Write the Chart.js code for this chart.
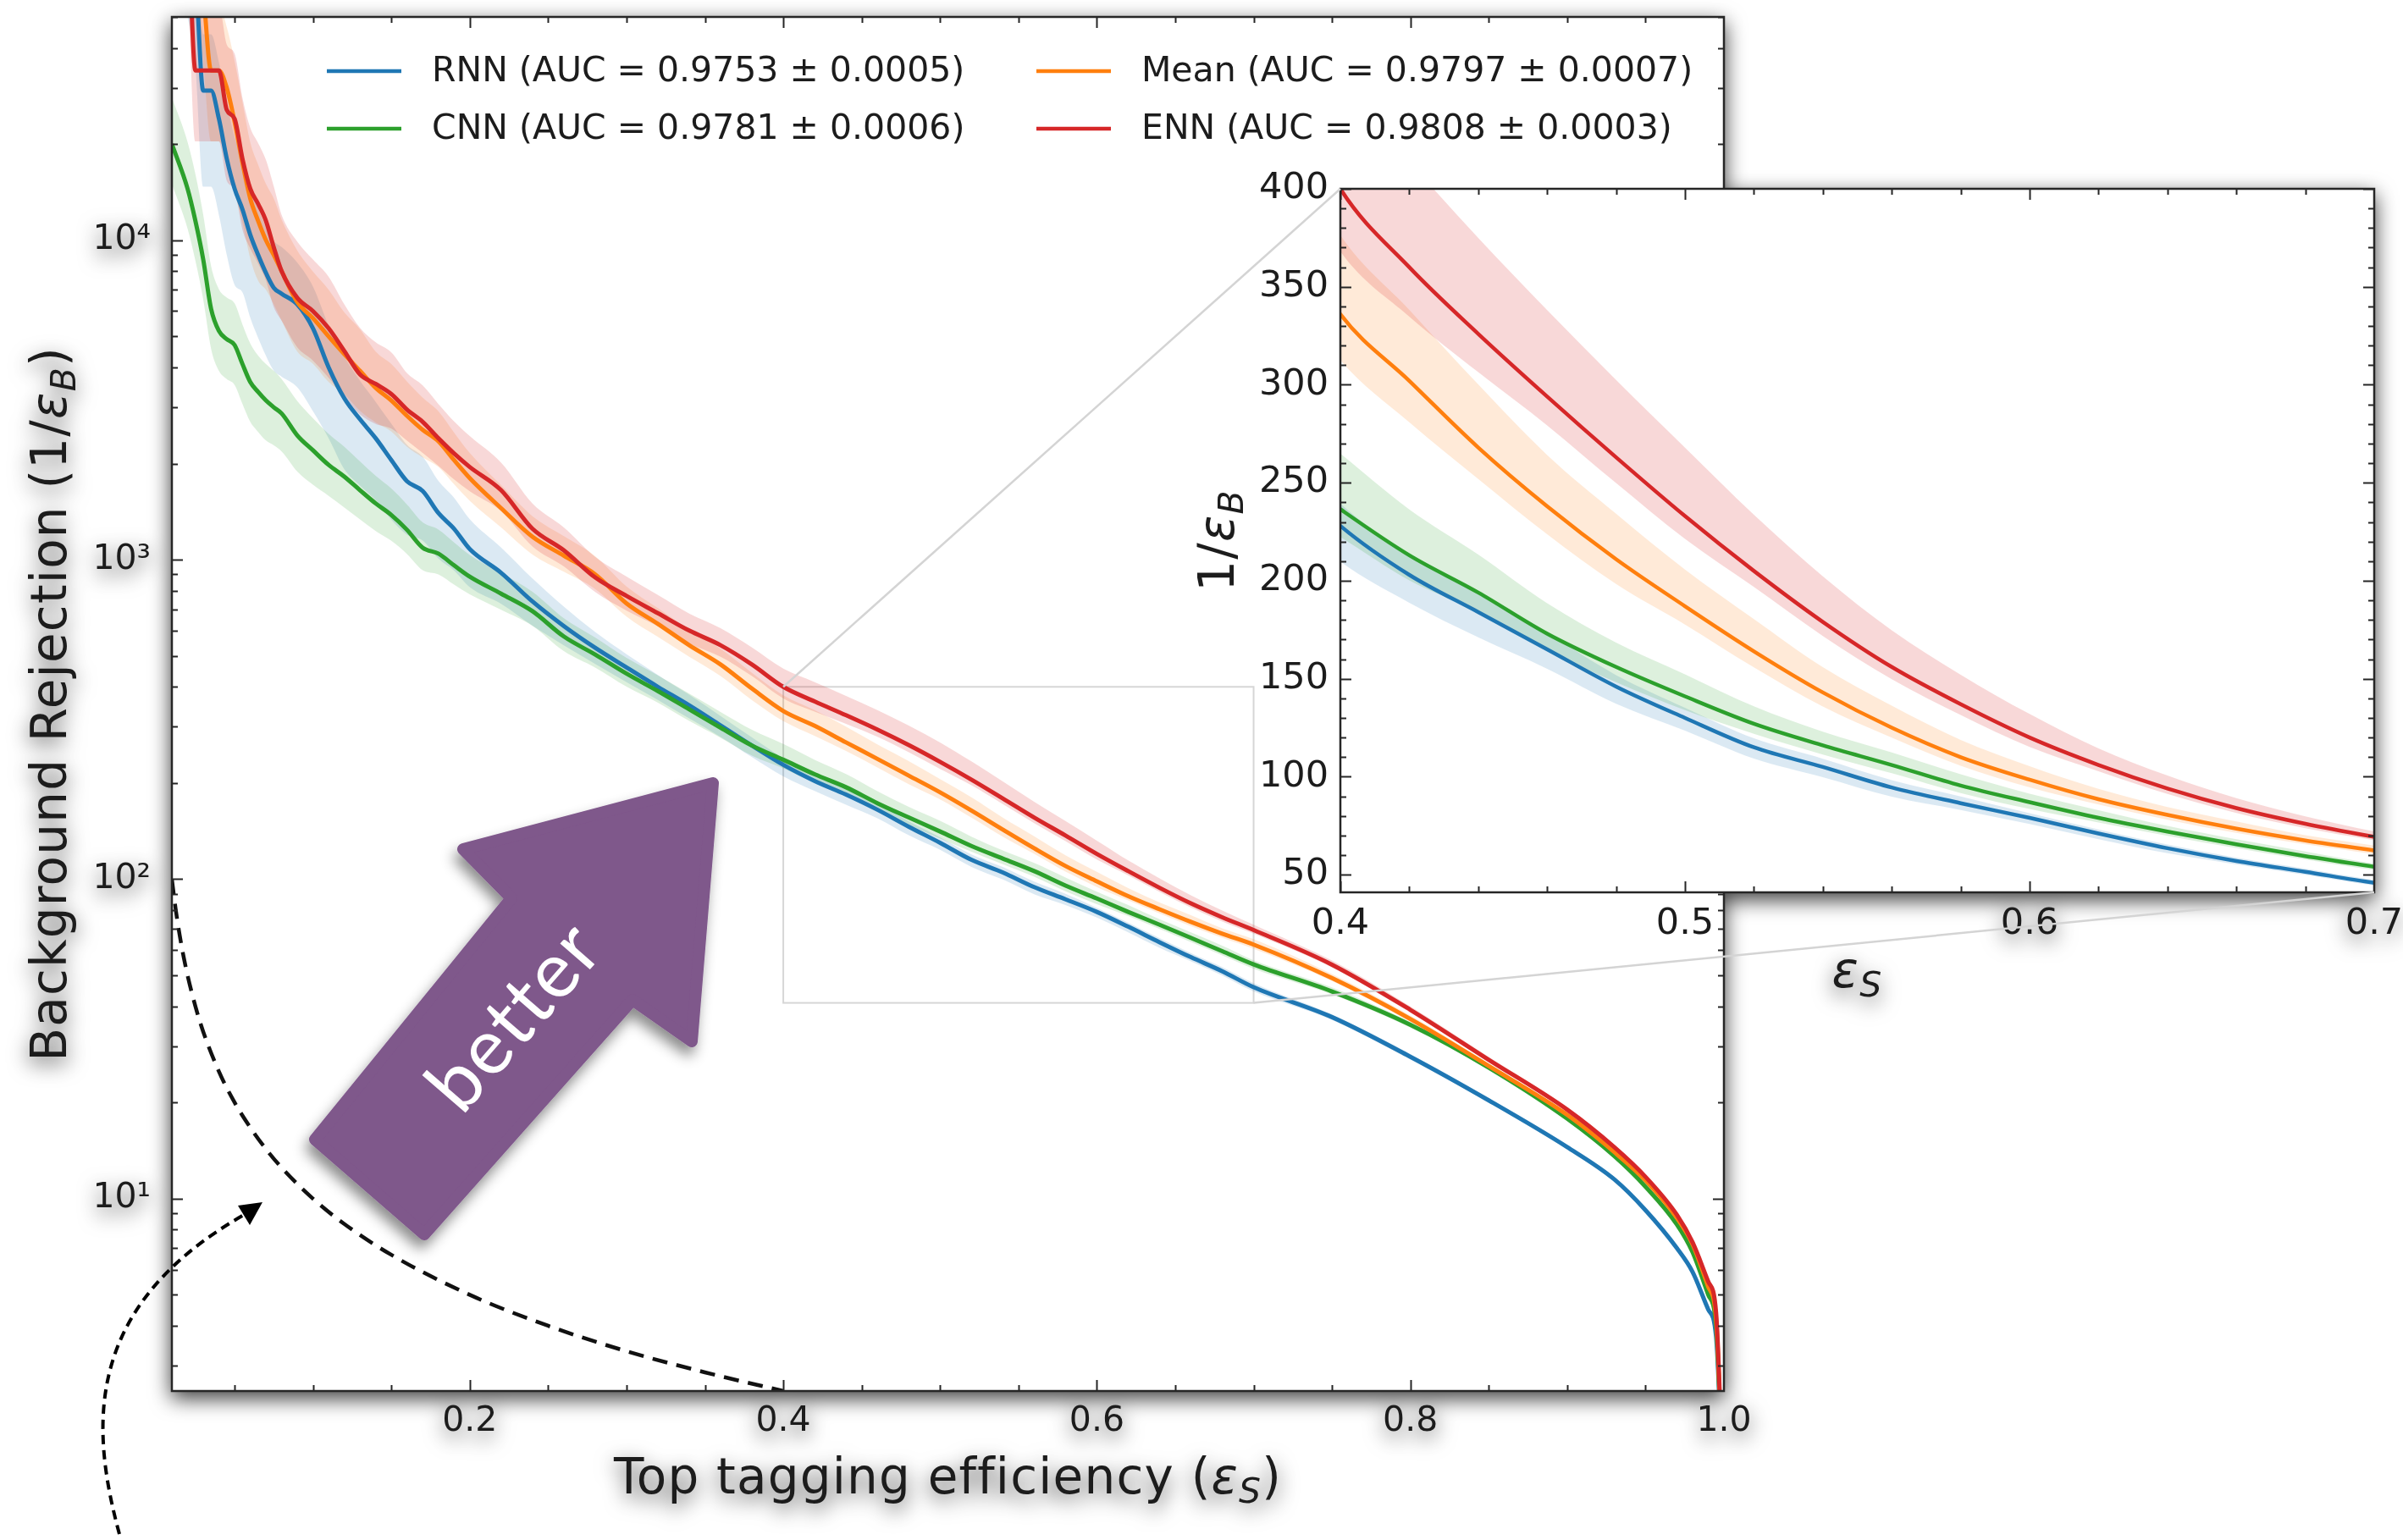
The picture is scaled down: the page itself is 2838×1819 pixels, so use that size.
<!DOCTYPE html>
<html>
<head>
<meta charset="utf-8">
<title>Top tagging ROC</title>
<script src="https://cdn.jsdelivr.net/npm/chart.js@4.4.1/dist/chart.umd.min.js"></script>
<style>
  html, body { margin: 0; padding: 0; background: #fff; }
  body { width: 2838px; height: 1819px; position: relative; overflow: hidden; }
  #figure { position: absolute; left: 0; top: 0; width: 2838px; height: 1819px;
            filter: drop-shadow(0 8px 12px rgba(0,0,0,0.75)); }
  #mainCanvas { position: absolute; left: 0; top: 0; }
  #insetBox { position: absolute; left: 1380px; top: 180px; width: 1458px; height: 1000px; }
  #marks { position: absolute; left: 0; top: 0; }
</style>
</head>
<body>
<div id="figure">
  <canvas id="mainCanvas" width="2838" height="1819"></canvas>
  <div id="insetBox"><canvas id="insetCanvas" width="1458" height="1000"></canvas></div>
</div>

<svg id="marks" width="2838" height="1819" xmlns="http://www.w3.org/2000/svg">
  <defs>
    <filter id="arrowShadow" x="-30%" y="-30%" width="160%" height="160%">
      <feDropShadow dx="-4" dy="10" stdDeviation="8" flood-color="#000" flood-opacity="0.45"/>
    </filter>
  </defs>
  <g id="zoomLinks" stroke="#d4d4d4" stroke-width="2.5" fill="none"></g>
  <!-- curved pointer towards the random-guess line -->
  <path d="M141 1812 C108 1690 95 1545 288 1435" fill="none" stroke="#000" stroke-width="4" stroke-dasharray="11 7"/>
  <polygon points="310,1420 281,1424 295,1447" fill="#000"/>
  <!-- "better" arrow -->
  <polygon points="842,925 547,1003 604,1061 372,1346 501,1458 747,1181 817,1230"
           fill="#7f588b" stroke="#7f588b" stroke-width="14" stroke-linejoin="round" filter="url(#arrowShadow)"/>
  <text x="613" y="1206" transform="rotate(-49 613 1206)" text-anchor="middle" dominant-baseline="middle"
        font-family="Lato, 'Open Sans', sans-serif" font-size="92" letter-spacing="2" fill="#fff">better</text>
</svg>

<script>
// ── ROC curves: background rejection vs. top tagging efficiency, with zoomed inset ──

const effS = [0.01, 0.02, 0.025, 0.03, 0.035, 0.04, 0.045, 0.05, 0.055, 0.06,
  0.065, 0.07, 0.075, 0.08, 0.09, 0.1,
  0.11, 0.12, 0.13, 0.14, 0.15, 0.16, 0.17, 0.18, 0.19, 0.2,
  0.22, 0.24, 0.26, 0.28, 0.3, 0.32, 0.34, 0.36, 0.38, 0.4,
  0.42, 0.44, 0.46, 0.48, 0.5, 0.52, 0.54, 0.56, 0.58, 0.6, 0.62, 0.64, 0.66, 0.68, 0.7,
  0.75, 0.8, 0.85, 0.9, 0.93, 0.95, 0.97, 0.98, 0.99, 0.995, 1.0];

// 1/eps_B for each model
const rnnRej = [150000, 100000, 70000, 29400, 29400, 24000, 18000, 14500, 12500, 10400,
  9000, 7900, 7100, 6800, 6300, 5300,
  4000, 3200, 2750, 2400, 2050, 1760, 1640, 1400, 1250, 1080,
  910, 740, 620, 530, 460, 400, 350, 303, 262, 228,
  203, 184, 165, 146, 130, 115, 105, 94.5, 86.5, 79, 71, 63.5, 57, 51.5, 45.9,
  37, 27.8, 20.3, 14.5, 11.5, 9.2, 7.0, 5.9, 4.5, 3.7, 1];
const cnnRej = [20000, 14500, 11500, 8700, 6100, 5200, 4900, 4700, 4100, 3600,
  3350, 3150, 3000, 2870, 2450, 2200,
  1980, 1820, 1650, 1500, 1380, 1240, 1090, 1045, 960, 885,
  783, 690, 575, 505, 440, 388, 340, 298, 262, 236.5,
  213, 194, 173, 156, 141, 127, 116, 106, 95.5, 87, 79, 72, 65.5, 59.5, 54.1,
  44.5, 35, 25.7, 17.8, 13.6, 10.9, 8.3, 6.8, 5.0, 4.0, 1];
const meanRej = [150000, 120000, 100000, 60000, 34000, 34000, 30000, 23500, 17500, 13500,
  11500, 10000, 9000, 8000, 6400, 5700,
  5000, 4400, 3900, 3450, 3150, 2820, 2550, 2350, 2050, 1800,
  1450, 1180, 1030, 900, 730, 630, 540, 470, 395, 336,
  302, 268, 238, 211, 187, 164, 143, 125, 110, 98.5, 88.5, 80.5, 73.5, 67.5, 62.4,
  49, 36.5, 26, 18.3, 14, 11.4, 8.7, 7.2, 5.3, 4.2, 1];
const ennRej = [150000, 100000, 34000, 34000, 34000, 34000, 25600, 24000, 18000, 14500,
  13000, 11500, 9500, 8000, 6600, 6000,
  5300, 4500, 3800, 3550, 3300, 2950, 2700, 2400, 2150, 1950,
  1650, 1250, 1070, 880, 770, 680, 600, 540, 470, 400,
  360, 326, 294, 263, 233, 205, 179, 156, 137, 120, 106, 94, 84, 76, 69.3,
  54, 39, 27.2, 19, 14.5, 11.7, 8.9, 7.3, 5.5, 4.4, 1];

// spread of the uncertainty bands, percent above / below the curve
const rnnUp = [50, 50, 50, 50, 50, 50, 50, 45, 45, 45, 40, 40, 40, 40, 35, 35,
  35, 35, 32, 30, 30, 30, 28, 26, 25, 24, 20, 18, 15, 12, 10, 9, 8, 7, 6, 5,
  5, 5, 5, 4, 4, 4, 4, 4, 4, 3, 3, 3, 3, 3, 3, 2, 2, 1.5, 1.5, 1, 1, 1, 1, 1, 1, 1];
const rnnDown = [50, 50, 50, 50, 50, 50, 50, 50, 45, 45, 45, 45, 45, 45, 45, 45,
  40, 40, 38, 36, 35, 32, 30, 28, 26, 24, 20, 16, 13, 11, 10, 9, 9, 8, 8, 8,
  7, 7, 6, 6, 5, 5, 5, 5, 4, 4, 4, 4, 3, 3, 3, 2, 2, 1.5, 1.5, 1, 1, 1, 1, 1, 1, 1];
const cnnUp = [40, 40, 40, 38, 36, 35, 35, 35, 33, 32, 30, 30, 30, 28, 28, 26,
  25, 24, 23, 22, 21, 20, 20, 19, 18, 17, 16, 15, 14, 13, 12, 12, 12, 12, 12, 12,
  11, 10, 9, 8, 8, 7, 6, 6, 6, 5, 5, 4, 4, 4, 3, 3, 2, 1.5, 1.5, 1, 1, 1, 1, 1, 1, 1];
const cnnDown = [25, 25, 25, 25, 25, 25, 25, 25, 25, 25, 25, 25, 24, 24, 23, 22,
  20, 20, 19, 18, 17, 16, 15, 14, 13, 12, 11, 10, 10, 9, 9, 8, 8, 7, 7, 6,
  6, 5, 5, 5, 5, 4, 4, 4, 4, 4, 3, 3, 3, 3, 3, 2, 2, 1.5, 1.5, 1, 1, 1, 1, 1, 1, 1];
const meanUp = [60, 60, 60, 60, 60, 60, 55, 55, 55, 50, 50, 50, 50, 45, 45, 40,
  40, 35, 35, 30, 30, 28, 26, 24, 22, 20, 18, 16, 15, 14, 13, 12, 12, 12, 12, 12,
  12, 12, 11, 11, 10, 10, 9, 9, 8, 7, 6, 5, 5, 4, 4, 3, 2.5, 2, 1.5, 1.5, 1, 1, 1, 1, 1, 1];
const meanDown = [40, 40, 40, 40, 40, 40, 40, 40, 35, 35, 35, 30, 30, 30, 30, 28,
  28, 25, 25, 22, 20, 20, 18, 17, 16, 15, 13, 12, 11, 10, 9, 9, 8, 8, 8, 7,
  7, 6, 6, 6, 5, 5, 5, 4, 4, 4, 3, 3, 3, 3, 3, 2, 2, 1.5, 1.5, 1, 1, 1, 1, 1, 1, 1];
const ennUp = [60, 60, 60, 60, 60, 60, 60, 60, 55, 55, 55, 55, 55, 50, 50, 45,
  45, 40, 40, 35, 35, 30, 30, 28, 26, 25, 22, 20, 18, 16, 15, 14, 13, 13, 13, 14,
  15, 15, 15, 15, 15, 14, 13, 12, 11, 10, 8, 7, 6, 5, 4, 3, 2.5, 2, 1.5, 1.5, 1, 1, 1, 1, 1, 1];
const ennDown = [40, 40, 40, 40, 40, 40, 40, 40, 40, 35, 35, 35, 35, 30, 30, 30,
  30, 28, 25, 25, 22, 20, 20, 18, 17, 16, 14, 12, 11, 10, 10, 9, 9, 8, 8, 8,
  7, 6, 5, 5, 5, 4, 4, 4, 4, 4, 3, 3, 3, 3, 2.5, 2, 2, 1.5, 1.5, 1, 1, 1, 1, 1, 1, 1];

// random-guess reference
const randEffS = [0.01, 0.0125, 0.015, 0.0175, 0.02, 0.025, 0.03, 0.04, 0.05, 0.06,
  0.07, 0.08, 0.1, 0.12, 0.15, 0.2, 0.25, 0.3, 0.35, 0.4];
const randRej = [100, 80, 66.7, 57.1, 50, 40, 33.3, 25, 20, 16.7,
  14.3, 12.5, 10, 8.33, 6.67, 5, 4, 3.33, 2.86, 2.5];

const seriesLabels = ['RNN (AUC = 0.9753 ± 0.0005)', 'CNN (AUC = 0.9781 ± 0.0006)',
  'Mean (AUC = 0.9797 ± 0.0007)', 'ENN (AUC = 0.9808 ± 0.0003)'];
const seriesColors = ['#1f77b4', '#2ca02c', '#ff7f0e', '#d62728'];
const bandColors = ['rgba(31,119,180,0.16)', 'rgba(44,160,44,0.16)', 'rgba(255,127,14,0.16)', 'rgba(214,39,40,0.18)'];

const mainXTicks = [0.2, 0.4, 0.6, 0.8, 1.0];
const mainYTicks = [10, 100, 1000, 10000];
const insetXTicks = [0.4, 0.5, 0.6, 0.7];
const insetYTicks = [50, 100, 150, 200, 250, 300, 350, 400];
const insetX = [0.4, 0.7];
const insetY = [41, 400];

const series = [
  { mid: rnnRej, up: rnnUp, down: rnnDown },
  { mid: cnnRej, up: cnnUp, down: cnnDown },
  { mid: meanRej, up: meanUp, down: meanDown },
  { mid: ennRej, up: ennUp, down: ennDown },
];

const TEXT = '#1c1c1c';
const FONT = '"DejaVu Sans"';
const SUP = ['⁰', '¹', '²', '³', '⁴', '⁵'];
Chart.defaults.font.family = FONT;
Chart.defaults.color = TEXT;

function range(a, b, step) {
  const out = [];
  for (let v = a; v <= b + 1e-9; v += step) out.push(+v.toFixed(4));
  return out;
}
const mainXMinor = range(0.05, 0.95, 0.05);
const mainYMinor = [];
[1, 10, 100, 1000, 10000].forEach(d => { for (let m = 2; m <= 9; m++) mainYMinor.push(m * d); });
const insetXMinor = range(0.42, 0.68, 0.02);
const insetYMinor = range(50, 400, 10);

function pts(xs, ys) { return xs.map((x, i) => ({ x, y: ys[i] })); }

function buildDatasets(lw) {
  const sets = [];
  const smooth = { cubicInterpolationMode: 'monotone', pointRadius: 0 };
  series.forEach((s, k) => {
    const lo = s.mid.map((v, i) => v * (1 - s.down[i] / 100));
    const hi = s.mid.map((v, i) => v * (1 + s.up[i] / 100));
    sets.push({ ...smooth, label: '', data: pts(effS, lo), borderWidth: 0, borderColor: 'rgba(0,0,0,0)',
      fill: false, order: 30 - k });
    sets.push({ ...smooth, label: '', data: pts(effS, hi), borderWidth: 0, borderColor: 'rgba(0,0,0,0)',
      backgroundColor: bandColors[k], fill: '-1', order: 30 - k });
  });
  series.forEach((s, k) => {
    sets.push({ ...smooth, label: seriesLabels[k], data: pts(effS, s.mid), borderColor: seriesColors[k],
      borderWidth: lw, fill: false, order: 10 - k });
  });
  return sets;
}

// axis helpers: fixed band widths so the plot boxes land where they should
function fixedAxis(size, horizontal) {
  return scale => {
    if (horizontal) scale.height = size; else scale.width = size;
    scale.paddingLeft = scale.paddingRight = scale.paddingTop = scale.paddingBottom = 0;
  };
}
function setTicks(values) {
  return scale => { scale.ticks = values.map(value => ({ value })); };
}

function drawRich(ctx, parts, cx, cy, size, angle) {
  const font = p => (p.it ? 'italic ' : '') + Math.round(p.sub ? size * 0.7 : size) + 'px ' + FONT;
  ctx.save();
  ctx.translate(cx, cy);
  ctx.rotate(angle);
  ctx.fillStyle = TEXT;
  ctx.textBaseline = 'alphabetic';
  ctx.letterSpacing = '1.2px';
  let total = 0;
  const widths = parts.map(p => { ctx.font = font(p); const w = ctx.measureText(p.t).width; total += w; return w; });
  let x = -total / 2;
  parts.forEach((p, i) => {
    ctx.font = font(p);
    ctx.fillText(p.t, x, size * 0.36 + (p.sub ? size * 0.2 : 0));
    x += widths[i];
  });
  ctx.restore();
}

// ── plugins ──
const paperBg = {
  id: 'paperBg',
  beforeDraw(chart) {
    const { ctx, chartArea: a } = chart;
    ctx.save();
    ctx.fillStyle = '#fff';
    ctx.fillRect(a.left, a.top, a.width, a.height);
    ctx.restore();
  }
};

// matplotlib-style frame with inward ticks on all four sides
const frameTicks = {
  id: 'frameTicks',
  afterDatasetsDraw(chart, args, o) {
    const { ctx, chartArea: a, scales: { x, y } } = chart;
    ctx.save();
    ctx.strokeStyle = '#262626';
    ctx.lineWidth = 2;
    ctx.beginPath();
    const xt = (vals, len) => vals.forEach(v => {
      const p = Math.round(x.getPixelForValue(v)) + 0.5;
      if (p < a.left || p > a.right) return;
      ctx.moveTo(p, a.bottom); ctx.lineTo(p, a.bottom - len);
      ctx.moveTo(p, a.top); ctx.lineTo(p, a.top + len);
    });
    const yt = (vals, len) => vals.forEach(v => {
      const p = Math.round(y.getPixelForValue(v)) + 0.5;
      if (p < a.top || p > a.bottom) return;
      ctx.moveTo(a.left, p); ctx.lineTo(a.left + len, p);
      ctx.moveTo(a.right, p); ctx.lineTo(a.right - len, p);
    });
    xt(o.xMajor, 13); xt(o.xMinor, 7);
    yt(o.yMajor, 13); yt(o.yMinor, 7);
    ctx.stroke();
    ctx.lineWidth = 2.5;
    ctx.strokeRect(a.left, a.top, a.width, a.height);
    ctx.restore();
  }
};

const axisTitles = {
  id: 'axisTitles',
  afterDraw(chart, args, o) {
    const { ctx, chartArea: a } = chart;
    drawRich(ctx, o.x, (a.left + a.right) / 2, a.bottom + o.below, o.size, 0);
    drawRich(ctx, o.y, a.left - o.left, (a.top + a.bottom) / 2, o.size, -Math.PI / 2);
  }
};

const legendCols = [183, 1021];
const legendRows = [64, 132];
const legendSlots = [[0, 0, 0], [2, 1, 0], [1, 0, 1], [3, 1, 1]]; // series, column, row

const legendBox = {
  id: 'legendBox',
  afterDatasetsDraw(chart) {
    const { ctx, chartArea: a } = chart;
    ctx.save();
    ctx.font = '41px ' + FONT;
    ctx.textBaseline = 'middle';
    ctx.lineWidth = 4.5;
    legendSlots.forEach(([k, c, r]) => {
      const x = a.left + legendCols[c], y = a.top + legendRows[r];
      ctx.strokeStyle = seriesColors[k];
      ctx.beginPath(); ctx.moveTo(x, y); ctx.lineTo(x + 88, y); ctx.stroke();
      ctx.fillStyle = TEXT;
      ctx.fillText(seriesLabels[k], x + 124, y + 1);
    });
    ctx.restore();
  }
};

const zoomFrame = {
  id: 'zoomFrame',
  beforeDatasetsDraw(chart) {
    const { ctx, scales: { x, y } } = chart;
    const x0 = x.getPixelForValue(insetX[0]), x1 = x.getPixelForValue(insetX[1]);
    const y0 = y.getPixelForValue(insetY[1]), y1 = y.getPixelForValue(insetY[0]);
    ctx.save();
    ctx.strokeStyle = '#d6d6d6';
    ctx.lineWidth = 2;
    ctx.strokeRect(x0, y0, x1 - x0, y1 - y0);
    ctx.restore();
  }
};

// ── inset ──
const insetChart = new Chart(document.getElementById('insetCanvas'), {
  type: 'line',
  data: { datasets: buildDatasets(4.5) },
  options: {
    responsive: false, maintainAspectRatio: false, animation: false,
    layout: { padding: { left: 0, top: 43, right: 34, bottom: 0 } },
    plugins: {
      legend: { display: false }, tooltip: { enabled: false },
      frameTicks: { xMajor: insetXTicks, xMinor: insetXMinor, yMajor: insetYTicks, yMinor: insetYMinor },
      axisTitles: {
        x: [{ t: 'ε', it: true }, { t: 'S', it: true, sub: true }],
        y: [{ t: '1/' }, { t: 'ε', it: true }, { t: 'B', it: true, sub: true }],
        size: 58, below: 91, left: 147
      }
    },
    scales: {
      x: { type: 'linear', min: insetX[0], max: insetX[1],
        afterBuildTicks: setTicks(insetXTicks), afterFit: fixedAxis(126, true),
        grid: { display: false }, border: { display: false },
        ticks: { font: { size: 43 }, color: TEXT, padding: 4, maxRotation: 0, autoSkip: false, callback: v => v.toFixed(1) } },
      y: { type: 'linear', min: insetY[0], max: insetY[1],
        afterBuildTicks: setTicks(insetYTicks), afterFit: fixedAxis(203, false),
        grid: { display: false }, border: { display: false },
        ticks: { font: { size: 43 }, color: TEXT, padding: 6, autoSkip: false, callback: v => String(v) } }
    }
  },
  plugins: [paperBg, frameTicks, axisTitles]
});

// ── main panel ──
const mainSets = buildDatasets(5);
mainSets.push({ label: '', data: pts(randEffS, randRej), borderColor: '#111', borderWidth: 4.5,
  borderDash: [18, 11], pointRadius: 0, fill: false, cubicInterpolationMode: 'monotone', order: 5 });

const mainChart = new Chart(document.getElementById('mainCanvas'), {
  type: 'line',
  data: { datasets: mainSets },
  options: {
    responsive: false, maintainAspectRatio: false, animation: false,
    layout: { padding: { left: 0, top: 20, right: 802, bottom: 0 } },
    plugins: {
      legend: { display: false }, tooltip: { enabled: false },
      frameTicks: { xMajor: mainXTicks, xMinor: mainXMinor, yMajor: mainYTicks, yMinor: mainYMinor },
      axisTitles: {
        x: [{ t: 'Top tagging efficiency (' }, { t: 'ε', it: true }, { t: 'S', it: true, sub: true }, { t: ')' }],
        y: [{ t: 'Background Rejection (1/' }, { t: 'ε', it: true }, { t: 'B', it: true, sub: true }, { t: ')' }],
        size: 58, below: 100, left: 146
      }
    },
    scales: {
      x: { type: 'linear', min: 0.01, max: 1.0,
        afterBuildTicks: setTicks(mainXTicks), afterFit: fixedAxis(176, true),
        grid: { display: false }, border: { display: false },
        ticks: { font: { size: 41 }, color: TEXT, padding: 4, maxRotation: 0, autoSkip: false, callback: v => v.toFixed(1) } },
      y: { type: 'logarithmic', min: 2.5, max: 50000,
        afterBuildTicks: setTicks(mainYTicks), afterFit: fixedAxis(203, false),
        grid: { display: false }, border: { display: false },
        ticks: { font: { size: 41 }, color: TEXT, padding: 17, autoSkip: false,
          callback: v => '10' + SUP[Math.round(Math.log10(v))] } }
    }
  },
  plugins: [paperBg, zoomFrame, frameTicks, legendBox, axisTitles]
});

// connector lines between the zoom frame and the inset corners
function linkInset() {
  const SVG_NS = 'http://www.w3.org/2000/svg';
  const mx = mainChart.scales.x, my = mainChart.scales.y;
  const ia = insetChart.chartArea;
  const box = document.getElementById('insetBox');
  const ox = box.offsetLeft, oy = box.offsetTop;
  const pairs = [
    [mx.getPixelForValue(insetX[0]), my.getPixelForValue(insetY[1]), ox + ia.left, oy + ia.top],
    [mx.getPixelForValue(insetX[1]), my.getPixelForValue(insetY[0]), ox + ia.right, oy + ia.bottom]
  ];
  const g = document.getElementById('zoomLinks');
  pairs.forEach(([x1, y1, x2, y2]) => {
    const l = document.createElementNS(SVG_NS, 'line');
    l.setAttribute('x1', x1); l.setAttribute('y1', y1);
    l.setAttribute('x2', x2); l.setAttribute('y2', y2);
    g.appendChild(l);
  });
}
linkInset();
</script>
</body>
</html>
